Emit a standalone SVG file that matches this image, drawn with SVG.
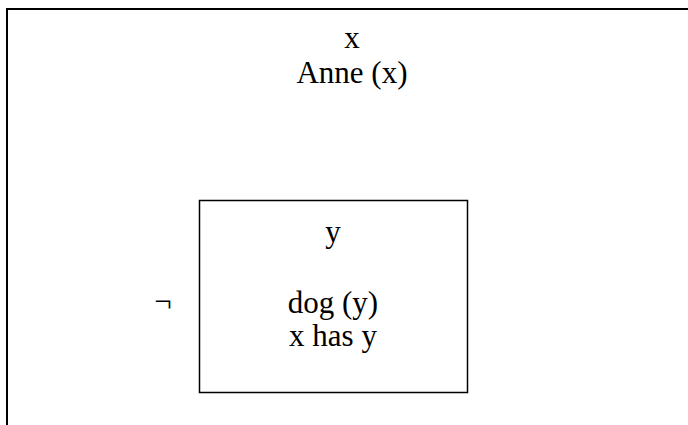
<svg xmlns="http://www.w3.org/2000/svg" width="688" height="425" viewBox="0 0 688 425">
<style>
.t{font-family:"Liberation Serif","Times New Roman",serif;font-size:31px;fill:#000;text-anchor:middle}
.b{fill:none;stroke:#000}
</style>
<rect width="688" height="425" fill="#fff"/>
<g id="outer">
<rect class="b" x="7" y="9" width="800" height="500" stroke-width="2"/>
<text class="t" x="352" y="48">x</text>
<text class="t" x="352" y="83">Anne (x)</text>
</g>
<g id="neg">
<text class="t" x="163" y="312">¬</text>
</g>
<g id="inner">
<rect class="b" x="199.5" y="200.5" width="268" height="192" stroke-width="1.5"/>
<text class="t" x="333" y="242">y</text>
<text class="t" x="333" y="313">dog (y)</text>
<text class="t" x="333" y="346">x has y</text>
</g>
<g id="connectors"/>
</svg>
